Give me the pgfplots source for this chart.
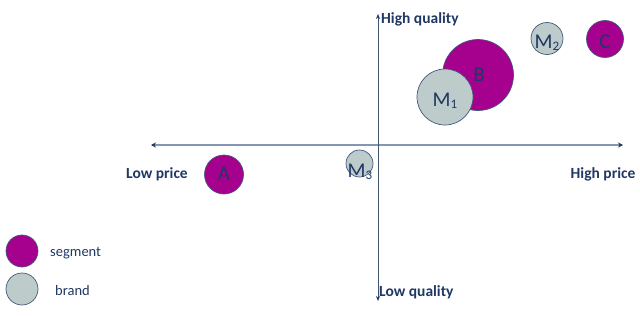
\documentclass[border=0pt]{standalone}
\usepackage{pgfplots}
\pgfplotsset{compat=1.18}
\usetikzlibrary{arrows.meta}
\usepackage{fontspec}
\setmainfont{Carlito}
\definecolor{seg}{HTML}{A6008F}
\definecolor{brd}{HTML}{BDCBCB}
\definecolor{edge}{HTML}{41597A}
\definecolor{txt}{HTML}{1F3864}
\definecolor{hax}{HTML}{8497B0}
\definecolor{vax}{HTML}{44546A}
\definecolor{tip}{HTML}{1F3864}
\newcommand{\sub}[1]{{\fontsize{13}{13}\selectfont\raisebox{-2pt}{#1}}}
\begin{document}
\begin{tikzpicture}
\begin{axis}[width=640pt,height=316pt,scale only axis,
  xmin=0,xmax=640,ymin=0,ymax=316,y dir=reverse,
  hide axis,clip=false]
% axes
\addplot[hax, line width=1.2pt, {Stealth[length=5pt,width=5pt,color=tip]}-{Stealth[length=5pt,width=5pt,color=tip]}] coordinates {(151,145) (623,145)};
\addplot[vax, line width=1pt, {Stealth[length=5pt,width=4pt,color=tip]}-{Stealth[length=5pt,width=4pt,color=tip]}] coordinates {(378,14) (378,301)};
% bubbles
\addplot[only marks, mark=*, mark size=19.5pt, mark options={fill=seg, draw=edge, line width=0.7pt}] coordinates {(224,174.5)};
\addplot[only marks, mark=*, mark size=13.5pt, mark options={fill=brd, draw=edge, line width=0.7pt}] coordinates {(359.5,163.5)};
\addplot[only marks, mark=*, mark size=35.5pt, mark options={fill=seg, draw=edge, line width=0.7pt}] coordinates {(478,75)};
\addplot[only marks, mark=*, mark size=28pt, mark options={fill=brd, draw=edge, line width=0.7pt}] coordinates {(445,97)};
\addplot[only marks, mark=*, mark size=16pt, mark options={fill=brd, draw=edge, line width=0.7pt}] coordinates {(547,38.5)};
\addplot[only marks, mark=*, mark size=18.5pt, mark options={fill=seg, draw=edge, line width=0.7pt}] coordinates {(605,39)};
% legend bubbles
\addplot[only marks, mark=*, mark size=16pt, mark options={fill=seg, draw=edge, line width=0.7pt}] coordinates {(22,251)};
\addplot[only marks, mark=*, mark size=16pt, mark options={fill=brd, draw=edge, line width=0.7pt}] coordinates {(22,289)};
% anchor coordinates for text
\coordinate (bl) at (axis cs:0,316);
\coordinate (tr) at (axis cs:640,0);
\coordinate (lA) at (axis cs:224,174);
\coordinate (lB) at (axis cs:479,75);
\coordinate (lC) at (axis cs:605,42);
\coordinate (l1) at (axis cs:445,101);
\coordinate (l2) at (axis cs:547,43);
\coordinate (l3) at (axis cs:360,172);
\coordinate (hq) at (axis cs:381,19);
\coordinate (lq) at (axis cs:379,292);
\coordinate (lp) at (axis cs:157,174);
\coordinate (hp) at (axis cs:603,174);
\coordinate (ls) at (axis cs:50,253);
\coordinate (lb) at (axis cs:55,291);
\end{axis}
% bubble labels
\begin{scope}[every node/.style={text=txt, font=\fontsize{21}{21}\selectfont, inner sep=0pt}]
\node at (lA) {A};
\node at (lB) {B};
\node at (lC) {C};
\node at (l1) {M\sub{1}};
\node at (l2) {M\sub{2}};
\node at (l3) {M\sub{3}};
\end{scope}
% axis labels
\begin{scope}[every node/.style={text=txt, font=\fontsize{15.5}{15.5}\selectfont\bfseries, inner sep=0pt}]
\node[anchor=west] at (hq) {High quality};
\node[anchor=west] at (lq) {Low quality};
\node at (lp) {Low price};
\node at (hp) {High price};
\end{scope}
% legend text
\begin{scope}[every node/.style={text=txt, font=\fontsize{14.5}{14.5}\selectfont, inner sep=0pt, anchor=west}]
\node at (ls) {segment};
\node at (lb) {brand};
\end{scope}
\pgfresetboundingbox
\path[use as bounding box] (bl) rectangle (tr);
\end{tikzpicture}
\end{document}
